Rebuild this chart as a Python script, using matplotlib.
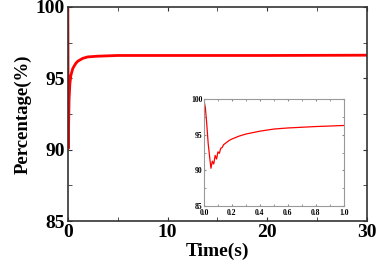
import matplotlib.pyplot as plt
from matplotlib.ticker import MultipleLocator

# main curve
t = [0, 0.01, 0.03, 0.05, 0.08, 0.12, 0.2, 0.3, 0.5, 0.8, 1.0, 1.5, 2.0, 3.0, 5.0, 10, 20, 30]
pct = [99.8, 97.5, 93.0, 90.1, 91.8, 93.5, 94.6, 95.2, 95.7, 96.05, 96.2, 96.4, 96.5, 96.55, 96.6, 96.6, 96.6, 96.62]

# inset, first second
t_in = [0, 0.01, 0.02, 0.03, 0.04, 0.05, 0.06, 0.07, 0.08, 0.09, 0.10, 0.11, 0.12,
        0.13, 0.14, 0.16, 0.18, 0.20, 0.25, 0.30, 0.40, 0.50, 0.60, 0.70, 0.80, 0.90, 1.0]
pct_in = [99.8, 98.8, 96.5, 93.8, 92.0, 90.3, 91.3, 90.9, 92.1, 91.6, 92.6, 92.4, 93.1,
          93.2, 93.6, 93.9, 94.2, 94.4, 94.8, 95.1, 95.5, 95.8, 95.95, 96.05, 96.15, 96.22, 96.3]

plt.rcParams['font.family'] = 'Liberation Serif'
plt.rcParams['font.weight'] = 'bold'

fig = plt.figure(figsize=(3.77, 2.67), dpi=100)
ax = fig.add_axes([0.180, 0.172, 0.793, 0.802])
ax.plot(t, pct, color='#ff0000', lw=2)
ax.set_xlim(0, 30)
ax.set_ylim(85, 100)
ax.xaxis.set_major_locator(MultipleLocator(10))
ax.xaxis.set_minor_locator(MultipleLocator(5))
ax.yaxis.set_major_locator(MultipleLocator(5))
ax.yaxis.set_minor_locator(MultipleLocator(2.5))
ax.tick_params(which='both', direction='in', top=True, right=True, labelsize=14, pad=2,
               length=3, color='#333333')
ax.set_xlabel('Time(s)', fontsize=14, fontweight='bold', labelpad=1)
ax.set_ylabel('Percentage(%)', fontsize=13.5, fontweight='bold', labelpad=3)
for s in ax.spines.values():
    s.set_color('#333333')
    s.set_linewidth(1.2)

ins = fig.add_axes([0.541, 0.228, 0.371, 0.401])
ins.plot(t_in, pct_in, color='#ff0000', lw=0.9)
ins.set_xlim(0, 1)
ins.set_ylim(85, 100)
ins.xaxis.set_major_locator(MultipleLocator(0.2))
ins.xaxis.set_minor_locator(MultipleLocator(0.1))
ins.yaxis.set_major_locator(MultipleLocator(5))
ins.yaxis.set_minor_locator(MultipleLocator(2.5))
ins.tick_params(which='both', direction='in', top=True, right=True, labelsize=5.5, pad=1, length=1.5, color='#888888')
ins.tick_params(axis='x', pad=2)
ins.set_xticklabels(['%.1f' % v for v in ins.get_xticks()])
for s in ins.spines.values():
    s.set_color('#999999')
    s.set_linewidth(0.8)

fig.savefig('out.png', dpi=100)
